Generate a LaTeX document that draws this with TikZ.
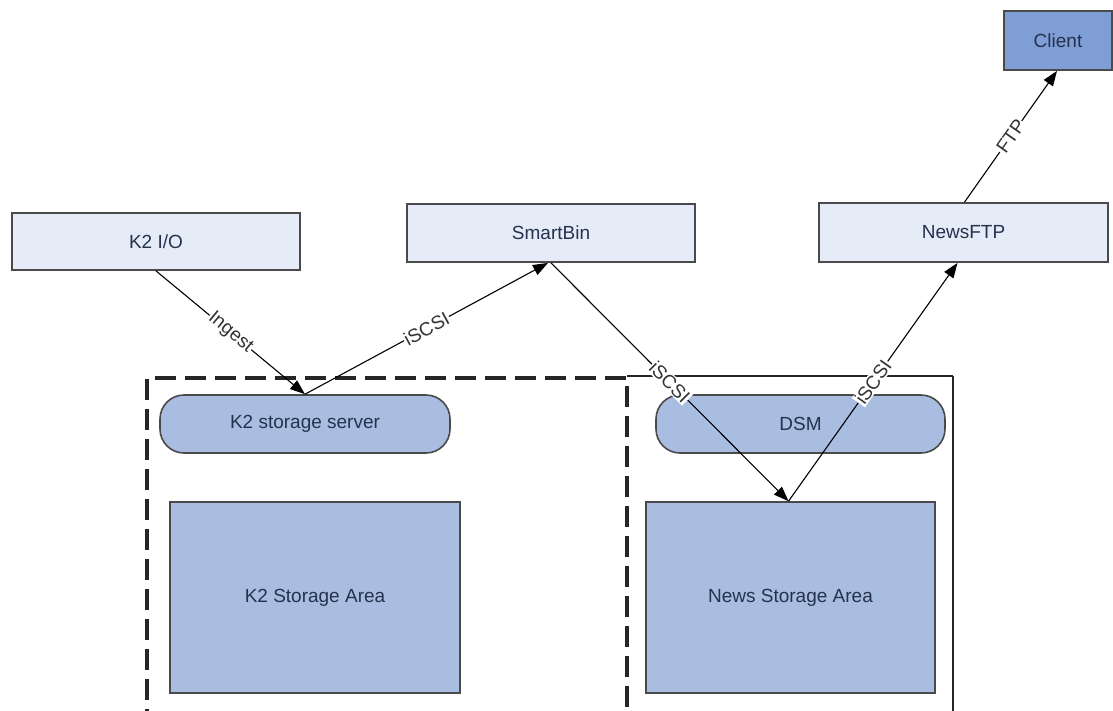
\documentclass[tikz,border=0pt]{standalone}
\usepackage{fontspec}
\setmainfont{Liberation Sans}
\usetikzlibrary{arrows.meta,positioning}
\definecolor{lightfill}{HTML}{E6ECF7}
\definecolor{midfill}{HTML}{A9BDE1}
\definecolor{clientfill}{HTML}{7F9ED5}
\definecolor{edgecol}{HTML}{4A4A4A}
\definecolor{txtcol}{HTML}{25324D}
\tikzset{
  lightbox/.style={draw=edgecol, line width=1.8pt, fill=lightfill, text=txtcol, inner sep=0pt, font=\fontsize{19}{22}\selectfont},
  bluebox/.style={draw=edgecol, line width=1.6pt, fill=midfill, text=txtcol, inner sep=0pt, font=\fontsize{19}{22}\selectfont},
  pillbox/.style={bluebox, rounded corners=24pt},
  clientbox/.style={draw=edgecol, line width=1.8pt, fill=clientfill, text=txtcol, inner sep=0pt, font=\fontsize{19}{22}\selectfont},
  conn/.style={draw=black, line width=1.1pt, -{Triangle[length=15pt,width=11pt]}},
  lbl/.style={fill=white, text=black!80, inner sep=1pt, sloped, midway, font=\fontsize{19}{21}\selectfont},
  dashedframe/.style={draw=black!85, line width=3.2pt, dash pattern=on 21pt off 9pt},
  solidframe/.style={draw=black!85, line width=1.8pt},
}
\begin{document}
\begin{tikzpicture}[x=1pt,y=-1pt]
\useasboundingbox (0,0) rectangle (1113,710);
\clip (0,0) rectangle (1113,710);
\fill[white] (0,0) rectangle (1113,710);

% frames
\draw[dashedframe] (147,730) -- (147,378) -- (627,378) -- (627,730);
\draw[solidframe] (627,376) -- (953,376);
\draw[draw=black!85, line width=2.8pt] (953,376) -- (953,730);

% nodes
\node[lightbox, minimum width=288pt, minimum height=57pt] (k2io) at (156,241.5) {K2 I/O};
\node[lightbox, minimum width=288pt, minimum height=58pt] (smartbin) at (551,233) {SmartBin};
\node[lightbox, minimum width=289pt, minimum height=59pt] (newsftp) at (963.5,232.5) {NewsFTP};
\node[clientbox, minimum width=108pt, minimum height=59pt] (client) at (1058,40.5) {Client};
\node[pillbox, minimum width=290pt, minimum height=58pt] (k2ss) at (305,424) {K2 storage server};
\node[pillbox, minimum width=289pt, minimum height=58pt] (dsm) at (800.5,424) {DSM};
\node[bluebox, minimum width=290pt, minimum height=191pt] (k2sa) at (315,597.5) {K2 Storage Area};
\node[bluebox, minimum width=289pt, minimum height=191pt] (newssa) at (790.5,597.5) {News Storage Area};

% connectors
\draw[conn] (k2io.south) -- node[lbl] {Ingest} (k2ss.north);
\draw[conn] (k2ss.north) -- node[lbl] {iSCSI} ([xshift=-3pt]smartbin.south);
\draw[conn] (smartbin.south) -- node[lbl] {iSCSI} ([xshift=-2pt]newssa.north);
\draw[conn] ([xshift=-2pt]newssa.north) -- node[lbl] {iSCSI} ([xshift=-6pt]newsftp.south);
\draw[conn] ([xshift=1pt]newsftp.north) -- node[lbl] {FTP} ([xshift=-1pt]client.south);
\end{tikzpicture}
\end{document}
